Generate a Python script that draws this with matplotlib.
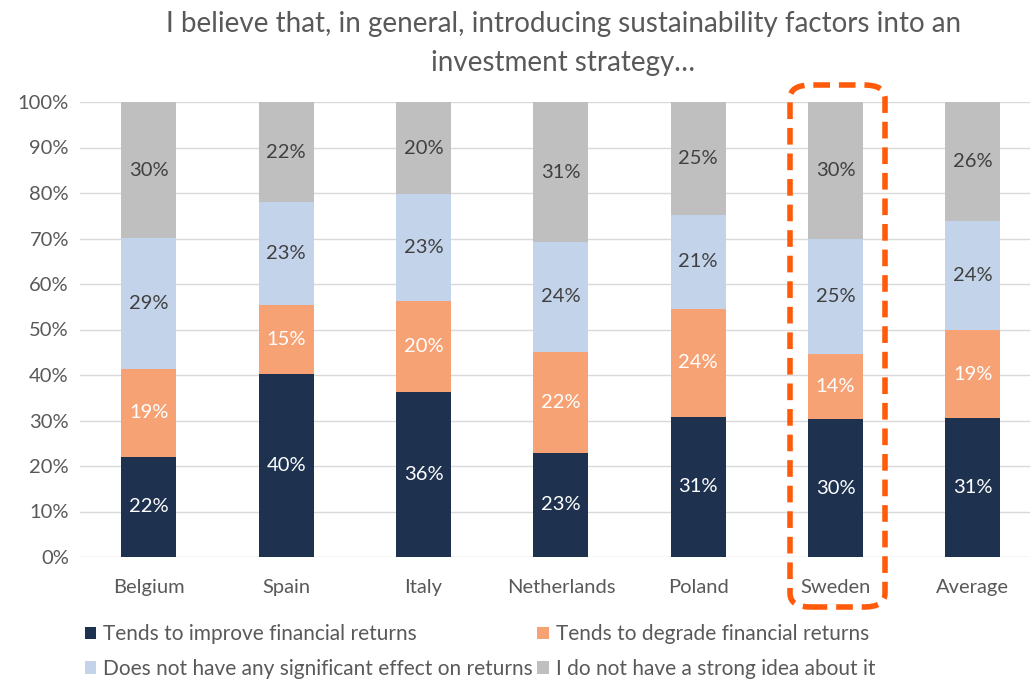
import numpy as np
import matplotlib.pyplot as plt
from matplotlib.patches import FancyBboxPatch, Patch

plt.rcParams['font.family'] = ['Lato', 'DejaVu Sans']

countries = ['Belgium', 'Spain', 'Italy', 'Netherlands', 'Poland', 'Sweden', 'Average']
improve = [22.0, 40.2, 36.3, 22.9, 30.8, 30.3, 30.6]
degrade = [19.4, 15.2, 20.0, 22.2, 23.7, 14.3, 19.2]
no_effect = [28.7, 22.6, 23.4, 24.1, 20.7, 25.3, 24.1]
no_idea = [29.9, 22.0, 20.3, 30.8, 24.8, 30.1, 26.1]

series = [
    ('Tends to improve financial returns', improve, '#1e3250', 'white'),
    ('Tends to degrade financial returns', degrade, '#f7a274', 'white'),
    ('Does not have any significant effect on returns', no_effect, '#c3d3ea', '#404040'),
    ('I do not have a strong idea about it', no_idea, '#bfbfbf', '#404040'),
]

TXT = '#595959'

fig = plt.figure(figsize=(10.3, 6.8), dpi=100, facecolor='white')
ax = fig.add_axes([80 / 1030, 1 - 557 / 680, 950 / 1030, 455 / 680])

x = np.arange(len(countries))
bottom = np.zeros(len(countries))
handles = []
for name, vals, color, tcol in series:
    vals = np.array(vals)
    ax.bar(x, vals, 0.4, bottom=bottom, color=color, zorder=3)
    for xi, b, v in zip(x, bottom, vals):
        ax.text(xi, b + v / 2, f'{v:.0f}%', ha='center', va='center',
                color=tcol, fontsize=14.5, zorder=4)
    bottom += vals
    handles.append(Patch(facecolor=color, label=name))

ax.set_xlim(-0.502, 6.416)
ax.set_ylim(0, 100)
ax.set_yticks(np.arange(0, 101, 10))
ax.set_yticklabels([f'{v}%' for v in range(0, 101, 10)])
ax.set_xticks(x)
ax.set_xticklabels(countries)
ax.tick_params(length=0, labelsize=14.5, labelcolor=TXT, pad=8)
ax.tick_params(axis='x', pad=16)
ax.grid(axis='y', color='#d9d9d9', lw=1, zorder=0)
for s in ax.spines.values():
    s.set_visible(False)

fig.text(0.547, 0.965, 'I believe that, in general, introducing sustainability factors into an',
         ha='center', va='center', fontsize=20, color=TXT)
fig.text(0.547, 0.907, 'investment strategy…', ha='center', va='center',
         fontsize=20, color=TXT)

# highlight box around Sweden
box = FancyBboxPatch((790 / 1030, 1 - 607 / 680), 95 / 1030, 522 / 680,
                     boxstyle='round,pad=0,rounding_size=0.02',
                     transform=fig.transFigure, fill=False,
                     edgecolor='#ff5b0a', lw=4, linestyle=(0, (3, 1.6)))
fig.patches.append(box)

order = [handles[0], handles[2], handles[1], handles[3]]
fig.legend(handles=order, loc='upper left', bbox_to_anchor=(72 / 1030, 1 - 612 / 680),
           ncol=2, frameon=False, fontsize=15, handlelength=0.55, handleheight=0.55,
           handletextpad=0.35, columnspacing=0.2, labelspacing=0.7, borderpad=0.1,
           labelcolor=TXT)

fig.savefig('out.png', dpi=100, facecolor='white')
